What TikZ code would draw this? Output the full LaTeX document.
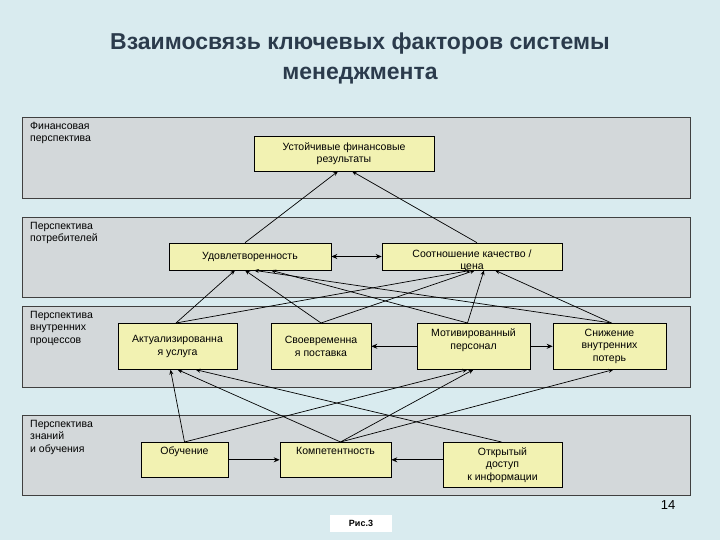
\documentclass[tikz,border=0pt]{standalone}
\usepackage{fontspec}
\setmainfont{Liberation Sans}
\usetikzlibrary{arrows.meta}
\definecolor{bg}{HTML}{D9EBEF}
\definecolor{bandc}{HTML}{D3D8DA}
\definecolor{boxc}{HTML}{F2F2B2}
\definecolor{titc}{HTML}{2B3B4C}
\begin{document}
\begin{tikzpicture}[x=1pt,y=-1pt,
  band/.style={draw=black!75,fill=bandc,line width=0.6pt},
  box/.style={draw=black,fill=boxc,line width=0.6pt,font=\fontsize{10.5}{12.5}\selectfont,align=center,inner sep=2pt},
  lab/.style={anchor=north west,font=\fontsize{10.5}{12.5}\selectfont,align=left,inner sep=0pt},
  ar/.style={-{Stealth[length=5pt,width=4pt]},line width=0.7pt},
  har/.style={-{Stealth[length=6pt,width=5pt]},line width=1.3pt}]
\fill[bg] (0,0) rectangle (720,540);
\useasboundingbox (0,0) rectangle (720,540);
\node[font=\bfseries\fontsize{23}{30}\selectfont,text=titc,align=center] (title) at (360,58) {Взаимосвязь ключевых факторов системы\\менеджмента};
\draw[band] (22,117) rectangle (690,198);
\draw[band] (22,217) rectangle (690,297);
\draw[band] (22,306) rectangle (690,387);
\draw[band] (22,415) rectangle (690,495);
\node[lab] (l1) at (30,122) {Финансовая\\перспектива};
\node[lab] (l2) at (30,222) {Перспектива\\потребителей};
\node[lab] (l3) at (30,311) {Перспектива\\внутренних\\процессов};
\node[lab] (l4) at (30,420) {Перспектива\\знаний\\и обучения};
\node[box,minimum width=180,minimum height=35] (ust) at (344,153.5) {Устойчивые финансовые\\результаты};
\node[box,minimum width=162,minimum height=27] (udv) at (250,256.5) {Удовлетворенность};
\node[box,minimum width=180,minimum height=27] (sootn) at (472,256.5) {};
\node[font=\fontsize{10.5}{12.5}\selectfont,align=center,anchor=north] (sootnt) at (472,246) {Соотношение качество /\\цена};
\node[box,minimum width=119,minimum height=46,anchor=north] (akt) at (177.5,323) {Актуализированна\\я услуга};
\node[box,minimum width=100,minimum height=46,anchor=north] (svo) at (321,323) {Своевременна\\я поставка};
\node[box,minimum width=113,minimum height=46,anchor=north,text depth=14pt] (mot) at (473.5,323) {Мотивированный\\персонал};
\node[box,minimum width=113,minimum height=46,anchor=north] (sni) at (609.5,323) {Снижение\\внутренних\\потерь};
\node[box,minimum width=87,minimum height=35,anchor=north,text depth=18pt] (obu) at (184.5,442) {Обучение};
\node[box,minimum width=111,minimum height=35,anchor=north,text depth=18pt] (kom) at (335.5,442) {Компетентность};
\node[box,minimum width=119,minimum height=45,anchor=north] (otk) at (502.5,442) {Открытый\\доступ\\к информации};
% top level
\draw[ar] ([xshift=-5]udv.north) -- ([xshift=-6]ust.south);
\draw[ar] ([xshift=5]sootn.north) -- ([xshift=8]ust.south);
\draw[har,{Stealth[length=6pt,width=5pt]}-{Stealth[length=6pt,width=5pt]}] (udv.east) -- (sootn.west);
% process -> consumer
\draw[ar] ([xshift=-1.5]akt.north) -- ([xshift=-15]udv.south);
\draw[ar] ([xshift=-1.5]akt.north) -- ([xshift=-1]sootn.south);
\draw[ar] (svo.north) -- ([xshift=-5]udv.south);
\draw[ar] (svo.north) -- ([xshift=3]sootn.south);
\draw[ar] ([xshift=-6]mot.north) -- ([xshift=21]udv.south);
\draw[ar] ([xshift=-6]mot.north) -- ([xshift=12]sootn.south);
\draw[ar] ([xshift=2]sni.north) -- ([xshift=4]udv.south);
\draw[ar] ([xshift=2]sni.north) -- ([xshift=23]sootn.south);
\draw[har] (mot.west) -- (svo.east);
\draw[har] (mot.east) -- (sni.west);
% knowledge -> process
\draw[ar] (obu.north) -- ([xshift=-7]akt.south);
\draw[ar] (obu.north) -- ([xshift=-6]mot.south);
\draw[ar] ([xshift=5]kom.north) -- ([xshift=0]akt.south);
\draw[ar] ([xshift=5]kom.north) -- ([xshift=0]mot.south);
\draw[ar] ([xshift=5]kom.north) -- ([xshift=4]sni.south);
\draw[ar] ([xshift=-1]otk.north) -- ([xshift=18]akt.south);
\draw[har] (obu.east) -- (kom.west);
\draw[har] (otk.west |- kom.east) -- (kom.east);
\node[font=\fontsize{13}{15}\selectfont] (num) at (668,505) {14};
\node[fill=white,minimum width=62,minimum height=17,font=\bfseries\fontsize{9}{11}\selectfont] (ris) at (361,523.5) {Рис.3};
\end{tikzpicture}
\end{document}
